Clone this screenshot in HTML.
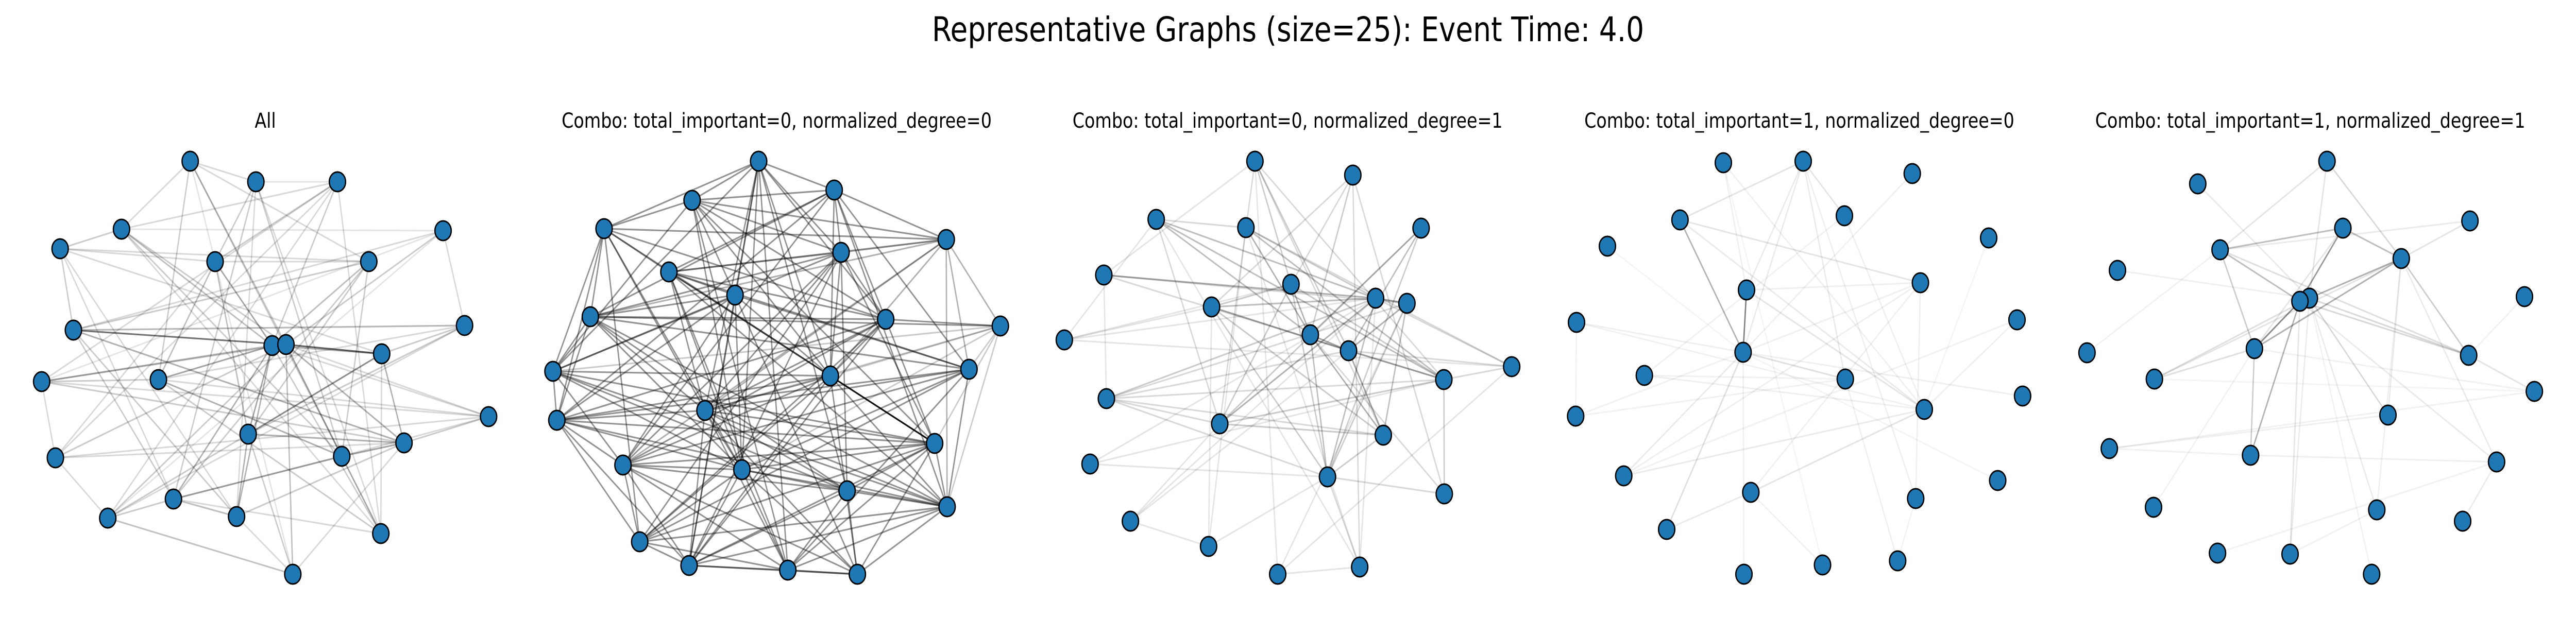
<!DOCTYPE html>
<html><head><meta charset="utf-8">
<style>
html,body{margin:0;padding:0;background:#fff;width:100%;height:100%;overflow:hidden;}
svg{display:block;width:100vw;height:100vh;}
text{font-family:"DejaVu Sans","Liberation Sans",sans-serif;fill:#000;}
</style></head>
<body>
<svg id="fig" viewBox="0 0 6000 1200" preserveAspectRatio="none" xmlns="http://www.w3.org/2000/svg">
<rect width="6000" height="1200" fill="#fff"/>
<text x="3000" y="80" font-size="66" text-anchor="middle">Representative Graphs (size=25): Event Time: 4.0</text>
</svg>
<script>
const panelTitles = ["All","Combo: total_important=0, normalized_degree=0","Combo: total_important=0, normalized_degree=1","Combo: total_important=1, normalized_degree=0","Combo: total_important=1, normalized_degree=1"];
const titleX = [618,1809,2999,4191,5381];

const nodes1 = [[443,313],[596,353],[786,353],[283,445],[140,483],[501,508],[859,508],[1032,448],[171,641],[1082,632],[634,671],[666,669],[889,687],[97,741],[369,737],[1138,809],[578,843],[941,860],[796,886],[129,889],[404,969],[251,1006],[551,1003],[887,1036],[682,1115]];
const nodes2 = [[1767,313],[1943,369],[1612,389],[1407,444],[2204,465],[1959,490],[1558,528],[1712,573],[1375,615],[2063,620],[2330,633],[1288,721],[2257,717],[1934,730],[1642,797],[1297,816],[2177,861],[1451,903],[1728,912],[1973,953],[2206,984],[1490,1052],[1605,1098],[1835,1107],[1997,1115]];
const nodes3 = [[2923,313],[3151,340],[2693,426],[2902,442],[3310,443],[2571,534],[3007,552],[3204,579],[3277,589],[2822,596],[2479,660],[3052,650],[3141,681],[3521,712],[3363,737],[2577,774],[2841,823],[3222,845],[2539,901],[3092,926],[3364,959],[2633,1012],[2815,1061],[3167,1101],[2976,1115]];
const nodes4 = [[4014,316],[4200,313],[4454,337],[3913,427],[4296,419],[3744,478],[4632,462],[4473,549],[4068,563],[3672,626],[4698,621],[4060,684],[3830,729],[4298,736],[4711,769],[4482,795],[3670,808],[3782,924],[4078,956],[4653,933],[4462,968],[3882,1028],[4245,1097],[4420,1089],[4062,1115]];
const nodes5 = [[5420,313],[5119,357],[5753,429],[5457,443],[5171,485],[5593,502],[4932,525],[5880,576],[5379,579],[5357,585],[5251,677],[4861,685],[5750,690],[5018,736],[5903,760],[5562,806],[4913,871],[5242,884],[5815,897],[5016,985],[5536,990],[5736,1012],[5165,1074],[5334,1076],[5524,1115]];

const edges1 = [[9,12,.55],[12,13,.6],[13,17,.45],[21,19,.4],[6,11,.35],[9,18,.3],[15,11,.35],[14,11,.25],[17,11,.35],[17,18,.3],[19,18,.35],[12,19,.35],[12,18,.3],[19,24,.35],[21,11,.3],[15,19,.3],[4,11,.25],[6,17,.25],[6,15,.25],[5,4,.2],[4,12,.2],[1,12,.2],[2,6,.2],[3,11,.2],[3,6,.2],[7,11,.25],[7,17,.2],[7,21,.2],[8,12,.2],[8,9,.15],[10,13,.2],[10,17,.2],[10,9,.15],[13,18,.3],[16,18,.2],[16,14,.15],[16,11,.15],[14,15,.2],[14,12,.2],[20,12,.2],[20,18,.15],[22,12,.2],[22,17,.2],[22,21,.2],[23,11,.3],[23,17,.3],[23,21,.25],[23,18,.2],[25,12,.25],[25,22,.15],[25,23,.15],[25,18,.15],[24,11,.2],[24,21,.15],[24,4,.15],[1,2,.15],[1,4,.15],[1,15,.2],[1,19,.2],[1,7,.15],[2,3,.1],[2,21,.2],[2,19,.2],[2,24,.15],[3,4,.15],[3,14,.15],[3,24,.15],[3,20,.15],[4,8,.1],[4,19,.2],[5,6,.15],[5,7,.15],[5,13,.15],[5,9,.2],[5,23,.15],[6,7,.15],[6,20,.15],[7,9,.2],[7,19,.2],[8,14,.1],[8,22,.1],[8,10,.15],[9,21,.2],[9,23,.2],[9,10,.15],[10,15,.15],[10,22,.15],[14,20,.15],[14,18,.2],[15,16,.15],[15,24,.2],[16,19,.15],[20,22,.15],[20,16,.15],[21,5,.15],[17,25,.2],[13,24,.15],[12,16,.15],[22,25,.1],[1,25,.1],[2,23,.15],[3,22,.15],[11,13,.3]];

const adj2 = [[1,[2,3,4,6,8,14,15,19,20,23,24,10,12],.42],[2,[3,5,6,10,13,7,9,18,21,14,16],.42],[3,[4,6,8,10,14,19,17,12,5,24],.42],[4,[5,7,9,12,16,14,19,10,22,15],.42],[5,[6,7,9,13,14,21,11,15,18],.3],[6,[7,9,12,15,18,17,20,22,23,10,14],.42],[7,[8,10,14,15,19,21,24,17,13],.42],[8,[9,13,14,18,19,23,12,16,25],.42],[9,[12,16,10,13,15,19,20,21,11],.42],[10,[11,15,16,17,18,22,23,14],.42],[11,[12,13,15,17,21,14,19],.2],[12,[16,14,18,17,19,20,21],.42],[13,[15,16,18,19,22,24,21],.42],[14,[15,16,18,22,23,25,21],.42],[15,[16,17,19,20,21,23,24,25],.42],[16,[17,18,19,22,23,21],.42],[17,[18,19,20,22,23,24,25,21],.42],[18,[19,20,22,23,24,25],.42],[19,[20,21,22,24,25,23],.42],[20,[21,23,24,25],.42],[21,[22,24,25,23],.42],[22,[23,24],.42],[23,[24,25],.42],[24,[25],.5],[14,[17],.9]];

const edges3 = [[10,13,.35],[6,8,.3],[8,9,.4],[13,18,.35],[12,18,.3],[17,8,.3],[9,13,.3],[4,12,.3],[7,12,.3],[3,15,.25],[12,13,.35],[13,15,.3],[10,8,.25],[10,7,.2],[3,8,.25],[3,12,.25],[4,15,.25],[5,13,.25],[5,12,.2],[5,20,.2],[5,17,.2],[7,15,.2],[8,20,.25],[8,14,.15],[9,20,.2],[10,18,.2],[10,20,.2],[12,20,.25],[16,8,.2],[16,9,.15],[17,15,.2],[17,18,.2],[20,18,.2],[1,7,.2],[1,15,.15],[1,13,.2],[1,18,.15],[2,10,.15],[2,12,.2],[2,21,.15],[2,24,.15],[3,4,.15],[3,17,.15],[4,8,.2],[4,14,.15],[6,16,.1],[6,9,.15],[6,15,.15],[11,8,.1],[11,14,.1],[11,7,.1],[14,13,.15],[14,15,.15],[15,21,.2],[15,16,.15],[16,20,.15],[16,13,.15],[17,1,.15],[17,22,.1],[19,15,.1],[19,8,.1],[20,21,.15],[20,24,.15],[20,23,.1],[21,12,.15],[22,8,.1],[22,13,.1],[23,10,.1],[23,4,.1],[24,8,.1],[25,9,.1],[25,14,.1],[25,1,.1],[24,25,.1],[19,20,.1],[22,23,.1],[3,24,.1],[6,1,.1],[11,3,.1],[16,17,.15],[18,9,.25],[18,16,.15],[7,20,.2],[7,17,.2],[2,7,.15],[4,24,.1],[10,11,.1]];

const edges4 = [[4,12,.3],[9,12,.5],[4,2,.1],[4,8,.1],[4,16,.08],[2,12,.08],[2,9,.08],[2,5,.1],[2,14,.08],[2,21,.06],[1,9,.06],[1,16,.06],[5,16,.06],[3,12,.06],[12,14,.12],[12,22,.12],[12,18,.08],[12,25,.06],[12,8,.06],[12,15,.06],[8,18,.06],[8,19,.06],[8,21,.06],[16,18,.08],[16,19,.1],[16,13,.06],[16,11,.06],[9,16,.1],[9,8,.06],[10,12,.06],[10,17,.05],[10,16,.05],[13,14,.05],[17,12,.05],[17,14,.05],[14,24,.06],[19,22,.08],[19,23,.05],[11,18,.05],[6,12,.04],[7,16,.04],[24,21,.05],[20,12,.04],[1,23,.04],[5,13,.05]];

const edges5 = [[4,10,.4],[5,4,.25],[4,6,.25],[6,11,.3],[5,11,.2],[5,10,.25],[10,11,.45],[9,6,.3],[10,18,.3],[11,18,.2],[1,6,.15],[1,5,.1],[1,9,.1],[6,13,.2],[6,14,.1],[14,11,.12],[14,9,.12],[9,13,.15],[10,13,.15],[9,16,.15],[6,16,.08],[10,24,.1],[9,21,.08],[5,13,.12],[2,9,.08],[3,5,.08],[3,6,.1],[7,9,.06],[12,5,.05],[17,16,.06],[17,18,.05],[18,19,.06],[15,13,.1],[15,11,.05],[15,17,.05],[19,6,.08],[19,23,.05],[21,6,.06],[22,19,.08],[24,21,.05],[24,9,.08],[20,11,.05],[25,9,.05],[8,13,.05],[14,15,.04],[10,19,.08],[4,11,.1]];

const NS = "http://www.w3.org/2000/svg";
const svg = document.getElementById("fig");

function mk(tag, attrs){ const e = document.createElementNS(NS, tag); for (const k in attrs) e.setAttribute(k, attrs[k]); return e; }

function drawPanel(p, nodes, edges){
  const g = mk("g", {});
  
  
  svg.appendChild(g);
  const t = mk("text", {x: titleX[p], y: 248, "font-size": 40, "text-anchor": "middle"});
  
  
  t.textContent = panelTitles[p];
  g.appendChild(t);
  edges.forEach(ed => {
    const a = nodes[ed[0]-1], b = nodes[ed[1]-1];
    const l = mk("line", {x1:a[0], y1:a[1], x2:b[0], y2:b[1], stroke:"#000", "stroke-width":3.2, "stroke-opacity":ed[2]});
    
    
    g.appendChild(l);
  });
  nodes.forEach(n => {
    const c = mk("circle", {cx:n[0], cy:n[1], r:19, fill:"#1f77b4", stroke:"#000", "stroke-width":3});
    
    
    g.appendChild(c);
  });
}

const edges2 = [];
adj2.forEach(r => r[1].forEach(b => edges2.push([r[0], b, r[2]])));

drawPanel(0, nodes1, edges1);
drawPanel(1, nodes2, edges2);
drawPanel(2, nodes3, edges3);
drawPanel(3, nodes4, edges4);
drawPanel(4, nodes5, edges5);
</script>
</body></html>
